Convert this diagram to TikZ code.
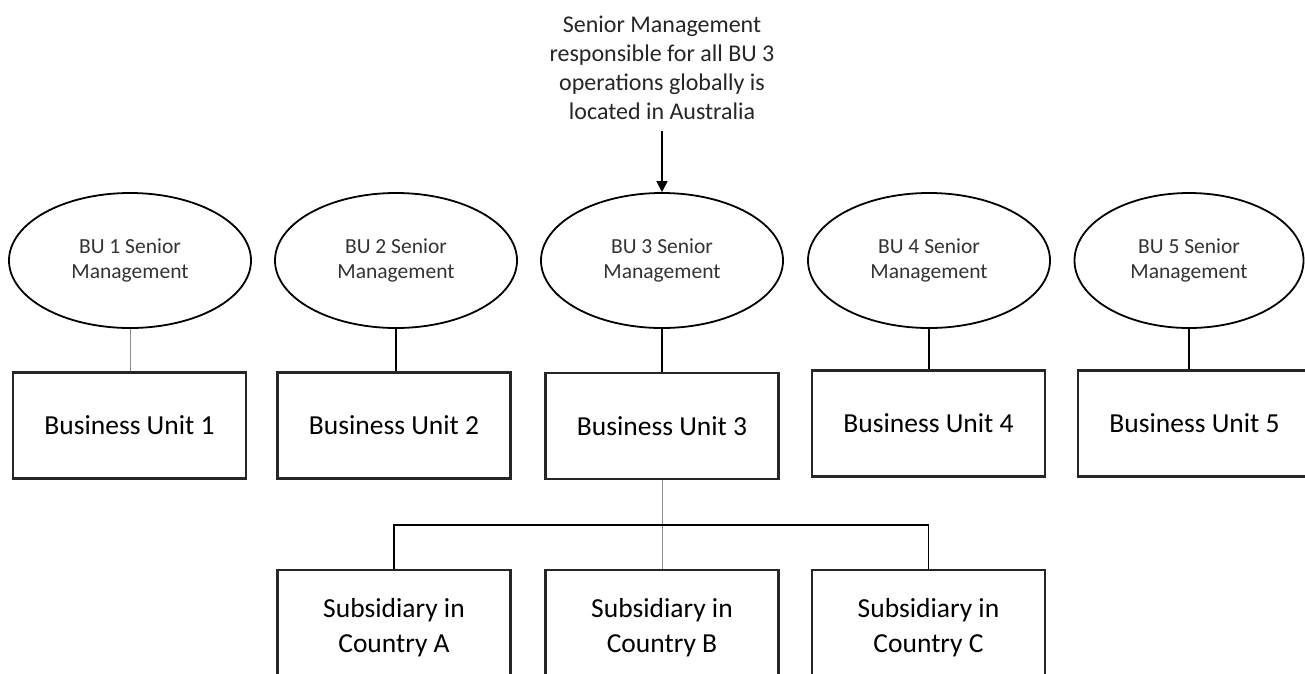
\documentclass[tikz,border=0pt]{standalone}
\usepackage{fontspec}
\setmainfont{Carlito}
\usetikzlibrary{shapes.geometric,arrows.meta}
\begin{document}
\begin{tikzpicture}[x=1pt,y=-1pt,
  mgmt/.style={ellipse,draw=black,line width=1.8pt,minimum width=242pt,minimum height=135pt,inner sep=0pt,
    align=center,text=black!80,font=\fontsize{21.5}{25}\selectfont},
  unitbox/.style={rectangle,draw=black!85,line width=2.4pt,minimum width=233pt,minimum height=106pt,inner sep=0pt,
    align=center,font=\fontsize{27.5}{35}\selectfont},
  subbox/.style={unitbox,minimum height=116pt},
  link/.style={draw=black,line width=1.2pt},
  thinlink/.style={draw=black!45,line width=1pt},
  note/.style={align=center,inner sep=0pt,text=black!85,font=\fontsize{24}{29}\selectfont}]
\useasboundingbox (0,0) rectangle (1305,673);
\fill[white] (0,0) rectangle (1305,673);
\clip (0,0) rectangle (1305,673);

\node[note] (hdr) at (662,68) {Senior Management\\responsible for all BU 3\\operations globally is\\located in Australia};

\node[mgmt] (e1) at (130,260.5) {BU 1 Senior\\Management};
\node[mgmt] (e2) at (396,260.5) {BU 2 Senior\\Management};
\node[mgmt] (e3) at (662,260.5) {BU 3 Senior\\Management};
\node[mgmt] (e4) at (929,260.5) {BU 4 Senior\\Management};
\node[mgmt,minimum width=229pt] (e5) at (1189,260.5) {BU 5 Senior\\Management};

\node[unitbox] (b1) at (129.5,425.5) {Business Unit 1};
\node[unitbox] (b2) at (394,425.5) {Business Unit 2};
\node[unitbox] (b3) at (662,426) {Business Unit 3};
\node[unitbox] (b4) at (928.5,423.5) {Business Unit 4};
\node[unitbox] (b5) at (1194.5,423.5) {Business Unit 5};

\node[subbox] (sA) at (394,628) {Subsidiary in\\Country A};
\node[subbox] (sB) at (662,628) {Subsidiary in\\Country B};
\node[subbox] (sC) at (928.5,628) {Subsidiary in\\Country C};

\coordinate (bar) at (662,525);

\draw[link,-{Triangle[width=11pt,length=11pt]},shorten <=11pt] (hdr.south) -- (e3.north);

\draw[thinlink] (e1.south) -- (e1.south |- b1.north);
\draw[link] (e2.south) -- (e2.south |- b2.north);
\draw[link] (e3.south) -- (e3.south |- b3.north);
\draw[link] (e4.south) -- (e4.south |- b4.north);
\draw[link] (e5.south) -- (e5.south |- b5.north);

\draw[thinlink] (b3.south) -- (sB.north);
\draw[link] (sA.north) |- (bar) -| (sC.north);
\end{tikzpicture}
\end{document}
